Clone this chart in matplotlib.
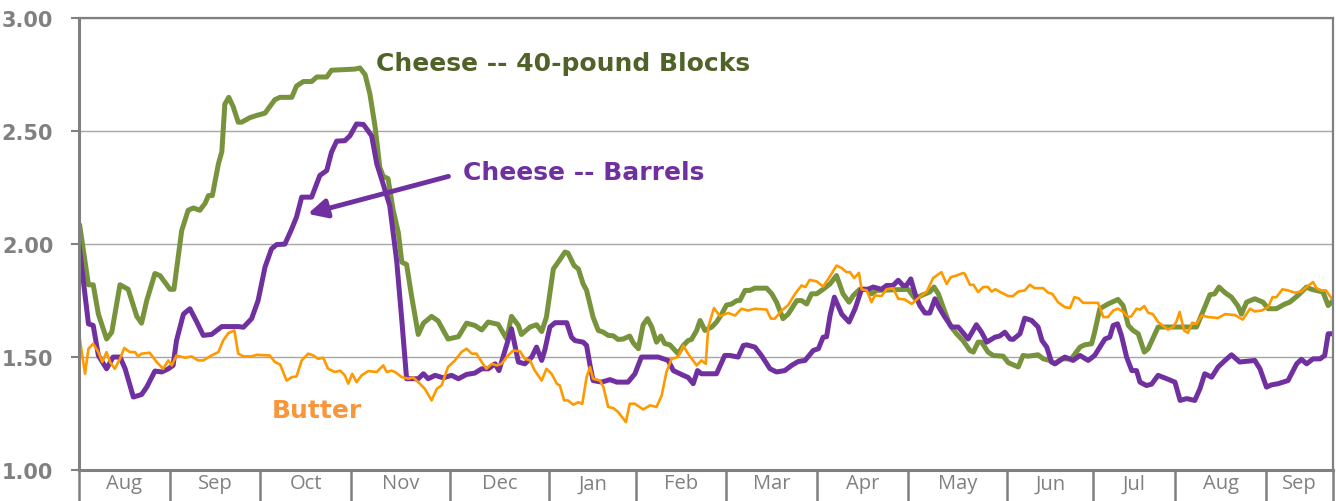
import matplotlib.pyplot as plt

# month labels along the x axis and trading days in each month
months = ['Aug', 'Sep', 'Oct', 'Nov', 'Dec', 'Jan', 'Feb', 'Mar', 'Apr',
          'May', 'Jun', 'Jul', 'Aug', 'Sep']
month_days = [21, 21, 21, 23, 23, 20, 21, 21, 21, 23, 20, 19, 21, 15.5]

# (trading day, $/lb)
blocks = [
    (0.2, 2.08), (2.2, 1.82), (3.3, 1.82), (4.5, 1.69), (6.4, 1.58), (7.6, 1.61),
    (9.5, 1.82), (11.4, 1.80), (13.4, 1.68), (14.5, 1.65), (15.7, 1.75), (17.6, 1.87),
    (18.8, 1.86), (21.1, 1.80), (22.0, 1.80), (23.8, 2.06), (25.3, 2.15), (26.5, 2.16),
    (28.0, 2.15), (29.2, 2.18), (30.0, 2.215), (30.9, 2.215), (32.3, 2.355), (33.1, 2.41),
    (33.8, 2.62), (34.7, 2.65), (35.7, 2.61), (36.9, 2.54), (37.7, 2.54), (39.6, 2.56),
    (41.2, 2.57), (43.1, 2.58), (45.4, 2.64), (46.6, 2.65), (49.3, 2.65), (50.4, 2.70),
    (52.0, 2.72), (53.9, 2.72), (55.1, 2.74), (57.4, 2.74), (58.5, 2.77), (63.9, 2.775),
    (65.1, 2.78), (66.3, 2.75), (67.4, 2.665), (68.6, 2.52), (69.7, 2.34), (70.5, 2.30),
    (71.6, 2.29), (72.8, 2.15), (74.0, 2.05), (74.8, 1.92), (75.9, 1.91), (77.1, 1.765),
    (78.6, 1.60), (79.8, 1.65), (81.7, 1.68), (83.2, 1.66), (85.5, 1.58), (87.9, 1.59),
    (89.8, 1.65), (91.7, 1.64), (93.3, 1.62), (94.8, 1.655), (97.1, 1.645), (99.1, 1.58),
    (100.2, 1.68), (101.8, 1.64), (102.5, 1.60), (104.5, 1.633), (106.0, 1.643), (107.2, 1.613),
    (108.3, 1.677), (109.9, 1.89), (111.0, 1.92), (112.6, 1.965), (113.3, 1.96), (114.7, 1.905),
    (115.7, 1.89), (116.8, 1.824), (117.6, 1.795), (119.1, 1.677), (120.3, 1.618), (121.5, 1.61),
    (122.6, 1.596), (123.8, 1.594), (124.9, 1.578), (126.1, 1.58), (127.6, 1.593), (128.4, 1.563),
    (129.6, 1.537), (130.7, 1.643), (131.7, 1.67), (132.7, 1.633), (133.8, 1.566), (134.8, 1.593),
    (135.7, 1.56), (136.9, 1.554), (138.8, 1.515), (140.0, 1.551), (141.1, 1.573), (141.9, 1.578),
    (143.1, 1.618), (143.9, 1.662), (145.0, 1.618), (146.6, 1.633), (147.7, 1.655), (148.9, 1.69),
    (150.0, 1.73), (151.2, 1.735), (152.4, 1.75), (153.1, 1.75), (154.3, 1.795), (155.4, 1.795),
    (156.6, 1.805), (159.3, 1.805), (160.5, 1.78), (161.6, 1.743), (163.1, 1.67), (164.3, 1.69),
    (166.3, 1.75), (167.4, 1.75), (168.6, 1.735), (169.7, 1.78), (170.9, 1.78), (172.4, 1.80),
    (174.0, 1.824), (175.5, 1.861), (177.0, 1.78), (178.4, 1.743), (179.4, 1.773), (180.9, 1.80),
    (182.5, 1.80), (183.6, 1.78), (184.8, 1.795), (192.1, 1.80), (193.7, 1.758), (195.2, 1.773),
    (197.1, 1.788), (198.1, 1.81), (199.1, 1.78), (200.2, 1.721), (201.8, 1.64), (203.3, 1.603),
    (204.8, 1.573), (206.4, 1.529), (207.2, 1.522), (208.3, 1.566), (209.1, 1.566), (210.6, 1.522),
    (211.8, 1.507), (214.1, 1.504), (215.3, 1.475), (217.6, 1.456), (218.7, 1.507), (219.9, 1.504),
    (222.2, 1.51), (223.4, 1.492), (224.9, 1.485), (226.1, 1.47), (227.6, 1.492), (229.9, 1.492),
    (231.9, 1.544), (233.0, 1.554), (234.6, 1.559), (235.3, 1.61), (236.5, 1.714), (238.4, 1.735),
    (240.7, 1.755), (241.9, 1.728), (243.1, 1.64), (244.2, 1.618), (245.4, 1.603), (246.8, 1.522),
    (247.7, 1.537), (250.0, 1.633), (258.9, 1.633), (260.8, 1.721), (262.0, 1.776), (263.1, 1.78),
    (264.1, 1.81), (265.5, 1.785), (267.0, 1.765), (268.5, 1.726), (269.3, 1.69), (270.5, 1.743),
    (272.4, 1.758), (274.3, 1.743), (275.5, 1.714), (277.4, 1.714), (279.4, 1.735), (280.5, 1.743),
    (282.4, 1.773), (284.4, 1.81), (285.5, 1.80), (288.2, 1.788), (289.4, 1.728), (290.5, 1.75),
]

barrels = [
    (0.0, 2.00), (1.0, 1.84), (2.2, 1.647), (3.3, 1.64), (4.5, 1.507), (6.4, 1.448),
    (7.9, 1.50), (9.5, 1.50), (10.7, 1.448), (12.6, 1.323), (14.5, 1.334), (15.7, 1.367),
    (17.6, 1.438), (19.2, 1.434), (20.7, 1.448), (21.8, 1.463), (22.6, 1.573), (24.2, 1.69),
    (25.7, 1.714), (27.3, 1.655), (28.8, 1.596), (30.7, 1.60), (33.1, 1.635), (36.9, 1.635),
    (38.1, 1.632), (40.0, 1.67), (41.5, 1.75), (43.1, 1.898), (44.6, 1.979), (45.8, 1.998),
    (47.7, 2.00), (49.3, 2.068), (50.4, 2.12), (51.6, 2.208), (53.9, 2.208), (55.8, 2.304),
    (57.4, 2.326), (58.5, 2.407), (59.7, 2.456), (61.6, 2.458), (62.8, 2.48), (64.3, 2.532),
    (65.9, 2.53), (67.8, 2.48), (69.0, 2.355), (70.1, 2.289), (72.0, 2.17), (73.6, 1.927),
    (74.8, 1.662), (75.9, 1.404), (78.6, 1.404), (79.8, 1.426), (80.9, 1.404), (82.5, 1.419),
    (84.4, 1.408), (86.3, 1.419), (87.9, 1.404), (89.8, 1.423), (91.7, 1.429), (93.3, 1.448),
    (94.8, 1.448), (96.4, 1.47), (97.3, 1.44), (98.7, 1.529), (100.2, 1.625), (101.8, 1.478),
    (103.3, 1.47), (104.9, 1.50), (106.0, 1.544), (107.2, 1.485), (107.9, 1.529), (109.1, 1.633),
    (110.3, 1.652), (113.0, 1.652), (114.1, 1.588), (114.9, 1.573), (116.8, 1.566), (117.6, 1.551),
    (118.4, 1.463), (119.1, 1.396), (121.1, 1.389), (123.0, 1.40), (124.6, 1.389), (127.2, 1.389),
    (128.8, 1.426), (130.3, 1.50), (134.2, 1.50), (136.5, 1.485), (137.7, 1.44), (140.0, 1.419),
    (141.1, 1.41), (142.3, 1.382), (143.3, 1.44), (144.2, 1.426), (147.7, 1.426), (149.6, 1.507),
    (150.8, 1.507), (152.7, 1.50), (153.9, 1.551), (154.7, 1.554), (156.6, 1.544), (158.1, 1.507),
    (160.1, 1.448), (161.6, 1.434), (163.5, 1.44), (165.1, 1.463), (166.6, 1.48), (168.2, 1.485),
    (170.1, 1.529), (171.3, 1.537), (172.4, 1.588), (173.2, 1.59), (174.0, 1.684), (175.0, 1.765),
    (176.7, 1.69), (178.4, 1.655), (179.8, 1.714), (181.3, 1.80), (182.8, 1.80), (184.0, 1.81),
    (185.9, 1.80), (187.1, 1.817), (188.6, 1.817), (189.8, 1.84), (190.9, 1.817), (191.7, 1.817),
    (192.7, 1.846), (193.7, 1.78), (194.8, 1.728), (196.0, 1.695), (197.1, 1.695), (198.3, 1.758),
    (199.2, 1.721), (200.6, 1.677), (202.2, 1.633), (203.7, 1.633), (206.0, 1.58), (207.9, 1.643),
    (209.1, 1.61), (210.3, 1.566), (212.2, 1.588), (213.3, 1.593), (214.5, 1.61), (215.7, 1.58),
    (216.4, 1.578), (218.0, 1.603), (219.1, 1.672), (220.7, 1.662), (222.2, 1.633), (223.1, 1.573),
    (224.2, 1.544), (225.3, 1.478), (226.1, 1.47), (228.4, 1.50), (230.3, 1.485), (231.9, 1.507),
    (233.8, 1.485), (235.3, 1.507), (236.5, 1.544), (237.7, 1.58), (238.8, 1.588), (239.6, 1.64),
    (240.6, 1.647), (241.5, 1.596), (242.7, 1.50), (243.9, 1.44), (245.0, 1.44), (245.8, 1.389),
    (247.3, 1.374), (248.5, 1.38), (250.0, 1.419), (252.0, 1.404), (253.9, 1.389), (255.1, 1.308),
    (256.6, 1.316), (258.5, 1.308), (259.7, 1.36), (260.8, 1.426), (262.4, 1.411), (263.9, 1.456),
    (265.5, 1.485), (267.0, 1.51), (268.9, 1.478), (272.4, 1.485), (273.6, 1.448), (275.1, 1.367),
    (276.3, 1.377), (277.8, 1.382), (280.1, 1.396), (282.1, 1.47), (283.2, 1.49), (284.4, 1.47),
    (285.9, 1.492), (287.5, 1.492), (288.6, 1.507), (289.4, 1.603), (290.5, 1.603),
]

butter = [
    (0.2, 1.581), (1.4, 1.426), (2.2, 1.537), (3.3, 1.559), (4.5, 1.522), (5.4, 1.478),
    (6.4, 1.522), (7.2, 1.478), (8.3, 1.448), (9.5, 1.492), (10.5, 1.54), (11.8, 1.522),
    (13.0, 1.522), (13.7, 1.503), (14.5, 1.515), (16.4, 1.519), (18.0, 1.478), (19.5, 1.448),
    (20.7, 1.485), (21.5, 1.463), (22.6, 1.507), (24.6, 1.497), (26.1, 1.503), (27.6, 1.485),
    (28.8, 1.485), (30.7, 1.507), (32.3, 1.522), (33.4, 1.573), (34.6, 1.606), (36.0, 1.618),
    (36.9, 1.515), (38.1, 1.503), (40.0, 1.503), (41.2, 1.51), (44.2, 1.507), (45.4, 1.478),
    (46.6, 1.467), (48.1, 1.396), (49.3, 1.411), (50.4, 1.414), (51.6, 1.485), (53.1, 1.515),
    (54.3, 1.507), (55.4, 1.492), (56.6, 1.497), (57.7, 1.448), (59.3, 1.434), (60.5, 1.44),
    (61.6, 1.419), (62.4, 1.382), (63.3, 1.426), (64.3, 1.389), (65.5, 1.419), (67.0, 1.438),
    (69.0, 1.434), (70.5, 1.463), (71.3, 1.434), (72.4, 1.44), (73.2, 1.434), (74.8, 1.411),
    (76.3, 1.404), (77.4, 1.41), (78.6, 1.389), (80.1, 1.36), (81.7, 1.308), (82.9, 1.36),
    (84.0, 1.374), (85.5, 1.456), (87.1, 1.485), (88.6, 1.522), (89.8, 1.537), (91.0, 1.515),
    (92.1, 1.515), (93.3, 1.478), (94.4, 1.448), (95.6, 1.47), (96.8, 1.463), (97.9, 1.47),
    (99.4, 1.507), (100.6, 1.529), (102.2, 1.525), (103.3, 1.492), (104.5, 1.485), (105.6, 1.44),
    (107.2, 1.396), (108.3, 1.448), (109.5, 1.426), (110.7, 1.382), (111.4, 1.374), (112.4, 1.308),
    (113.3, 1.308), (114.5, 1.289), (115.7, 1.30), (116.6, 1.293), (117.6, 1.411), (118.4, 1.456),
    (119.1, 1.404), (120.7, 1.396), (121.5, 1.367), (122.6, 1.279), (123.8, 1.274), (124.9, 1.257),
    (126.7, 1.212), (127.6, 1.293), (128.8, 1.293), (130.7, 1.268), (132.3, 1.286), (133.8, 1.279),
    (135.0, 1.33), (136.1, 1.434), (137.3, 1.492), (138.8, 1.50), (140.0, 1.551), (141.1, 1.515),
    (143.1, 1.463), (144.2, 1.485), (145.2, 1.47), (145.8, 1.633), (147.1, 1.717), (148.5, 1.681),
    (150.4, 1.695), (152.0, 1.684), (153.5, 1.714), (155.0, 1.706), (156.6, 1.714), (159.3, 1.71),
    (160.3, 1.67), (161.2, 1.67), (162.8, 1.706), (164.3, 1.73), (165.9, 1.78), (167.4, 1.817),
    (168.3, 1.81), (169.3, 1.842), (170.9, 1.835), (172.4, 1.812), (173.6, 1.846), (175.5, 1.905),
    (176.7, 1.894), (177.8, 1.876), (178.6, 1.876), (179.6, 1.85), (180.7, 1.873), (181.3, 1.80),
    (182.5, 1.795), (183.6, 1.743), (184.4, 1.773), (185.9, 1.77), (187.1, 1.80), (188.6, 1.805),
    (189.8, 1.758), (191.3, 1.755), (192.9, 1.735), (194.4, 1.76), (196.4, 1.79), (197.9, 1.85),
    (199.8, 1.876), (201.0, 1.824), (202.0, 1.854), (203.3, 1.861), (204.8, 1.872), (205.2, 1.869),
    (206.4, 1.82), (207.2, 1.82), (208.3, 1.788), (209.5, 1.81), (210.6, 1.81), (211.4, 1.79),
    (212.3, 1.80), (213.7, 1.785), (215.3, 1.77), (216.4, 1.77), (217.6, 1.79), (219.1, 1.795),
    (220.3, 1.82), (221.4, 1.805), (223.4, 1.805), (224.5, 1.785), (225.5, 1.78), (226.8, 1.743),
    (228.4, 1.721), (229.6, 1.717), (230.6, 1.765), (231.6, 1.76), (232.6, 1.74), (236.1, 1.74),
    (237.3, 1.677), (238.4, 1.677), (239.6, 1.706), (240.7, 1.714), (241.9, 1.70), (243.1, 1.677),
    (243.8, 1.68), (245.0, 1.714), (245.8, 1.71), (246.8, 1.726), (247.7, 1.696), (248.8, 1.69),
    (250.0, 1.655), (251.2, 1.637), (252.3, 1.622), (253.5, 1.633), (254.2, 1.655), (255.0, 1.70),
    (256.0, 1.618), (256.9, 1.607), (257.9, 1.652), (258.9, 1.647), (260.1, 1.684), (261.6, 1.677),
    (263.9, 1.673), (265.5, 1.69), (267.8, 1.686), (269.6, 1.666), (271.3, 1.714), (272.4, 1.702),
    (274.0, 1.706), (275.5, 1.721), (276.5, 1.765), (277.4, 1.765), (278.8, 1.80), (280.1, 1.795),
    (281.7, 1.785), (283.2, 1.79), (284.4, 1.81), (285.9, 1.832), (286.7, 1.805), (287.8, 1.795),
    (288.9, 1.795), (290.0, 1.765), (290.5, 1.75),
]

GREEN = '#77933c'
PURPLE = '#7030a0'
ORANGE = '#ff9900'
GRAY = '#808080'

fig = plt.figure(figsize=(13.36, 5.02), dpi=100)
ax = fig.add_axes([0.0591, 0.0618, 0.9386, 0.8998])

edges = [0]
for n in month_days:
    edges.append(edges[-1] + n)
centers = [(a + b) / 2 for a, b in zip(edges[:-1], edges[1:])]

for series, color, lw in [(blocks, GREEN, 3.6), (barrels, PURPLE, 3.6), (butter, ORANGE, 1.9)]:
    days, prices = zip(*series)
    ax.plot(days, prices, color=color, lw=lw, solid_joinstyle='round')

ax.set_xlim(0, edges[-1])
ax.set_ylim(1, 3)
yt = [1.0, 1.5, 2.0, 2.5, 3.0]
ax.set_yticks(yt)
ax.set_yticklabels([f'{t:.2f}' for t in yt], fontweight='bold', family='DejaVu Sans')
ax.grid(axis='y', color='#a6a6a6', lw=1)
ax.set_axisbelow(True)

# month separators as long major ticks, names centred on minor ticks
ax.set_xticks(edges)
ax.set_xticklabels([])
ax.set_xticks(centers, minor=True)
ax.set_xticklabels(months, minor=True, family='Open Sans')
ax.tick_params(axis='x', which='major', length=25, width=1.8, color=GRAY)
ax.tick_params(axis='x', which='minor', length=0, pad=2.5, labelsize=14.5, labelcolor=GRAY)
ax.tick_params(axis='y', length=5.5, width=1.5, color=GRAY, labelsize=15,
               labelcolor=GRAY, pad=13)

for side, w in [('left', 2.2), ('bottom', 2.2), ('top', 1.6), ('right', 1.6)]:
    ax.spines[side].set_color(GRAY)
    ax.spines[side].set_linewidth(w)

# labels drawn on the chart instead of a legend
ax.text(112.2, 2.80, 'Cheese -- 40-pound Blocks', color='#4f6228', fontsize=18,
        fontweight='bold', ha='center', va='center')
ax.text(116.9, 2.32, 'Cheese -- Barrels', color=PURPLE, fontsize=18,
        fontweight='bold', ha='center', va='center')
ax.text(55.1, 1.267, 'Butter', color='#f7963c', fontsize=18,
        fontweight='bold', ha='center', va='center')
ax.annotate('', xy=(53.0, 2.134), xytext=(85.6, 2.30),
            arrowprops=dict(arrowstyle='-|>', lw=3.5, color=PURPLE, mutation_scale=28,
                            shrinkA=0, shrinkB=0))

fig.savefig('out.png', dpi=100)
